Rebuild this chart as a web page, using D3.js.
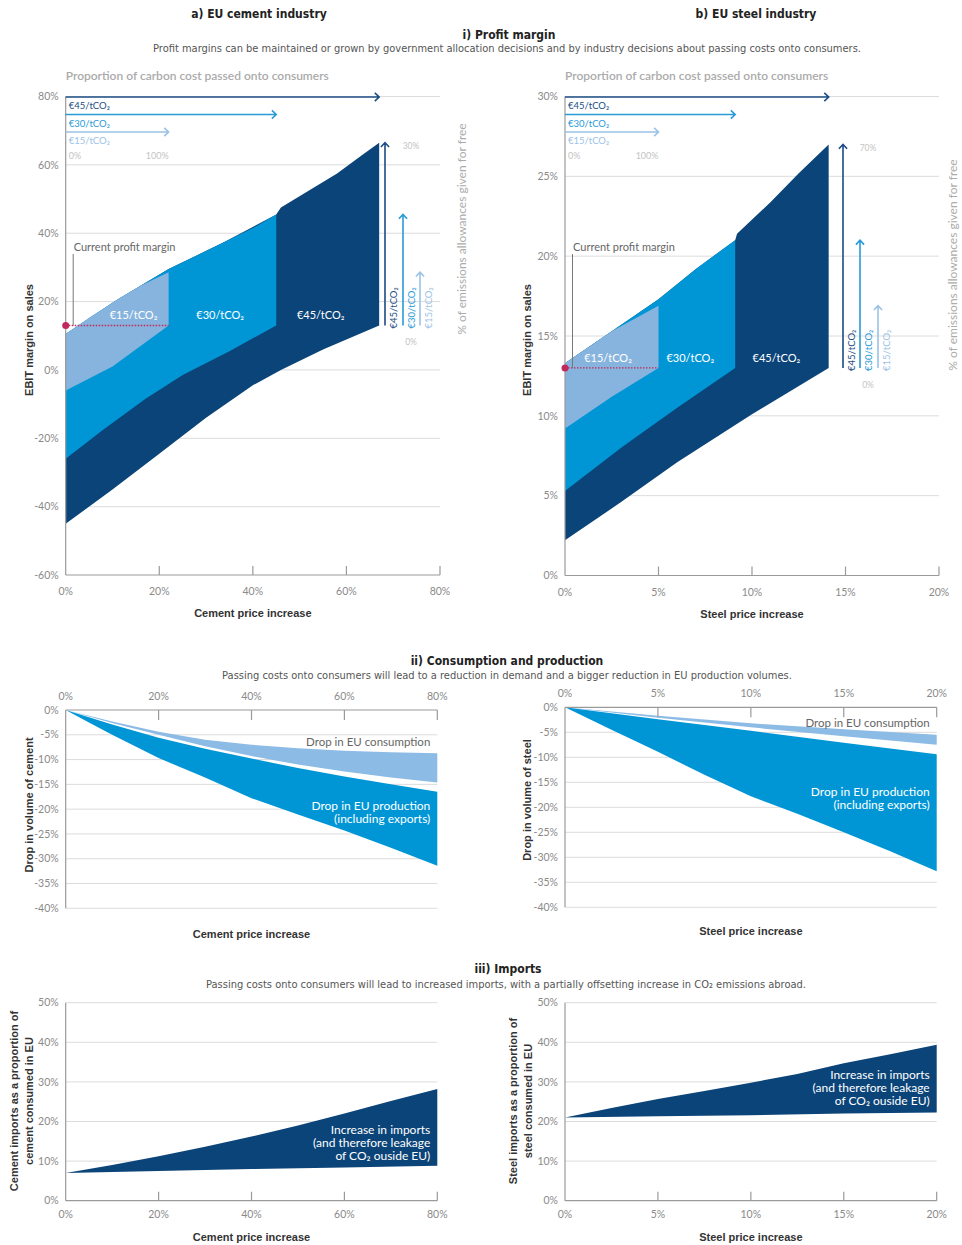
<!DOCTYPE html>
<html>
<head>
<meta charset="utf-8">
<script src="https://cdn.jsdelivr.net/npm/d3@7"></script>
<style>
	body { margin: 0; background: #fff; }
	svg text { font-family: Lato, "Open Sans", sans-serif; }
	.cond { font-family: "Liberation Sans Narrow", "DejaVu Sans Condensed", "DejaVu Sans", sans-serif; font-stretch: condensed; }
	.bold { font-family: "Liberation Sans", Arial, sans-serif; font-weight: bold; }
</style>
</head>
<body>
<svg id="chart" width="962" height="1245"></svg>
<script>
// ---------- data ----------
const cementPriceTicks = [0, 20, 40, 60, 80];
const steelPriceTicks = [0, 5, 10, 15, 20];
const cementMarginTicks = [-60, -40, -20, 0, 20, 40, 60, 80];
const steelMarginTicks = [0, 5, 10, 15, 20, 25, 30];
const volumeTicks = [0, -5, -10, -15, -20, -25, -30, -35, -40];
const importTicks = [0, 10, 20, 30, 40, 50];

const carbonPrices = ["€15/tCO₂", "€30/tCO₂", "€45/tCO₂"];
const cementMargin = 13;
const steelMargin = 13;
const cementFreeRange = ["0%", "30%"];
const steelFreeRange = ["0%", "70%"];

// EBIT margin bands, [price increase %, margin %], for €15, €30, €45
const cementTops = [
	[[0, 10.5], [5, 15.2], [11, 20.5], [16, 24.6], [22, 28.6]],
	[[0, 10.5], [5, 15.2], [11, 20.5], [16, 24.6], [22, 29.5], [28, 33.5], [34, 37.5], [40, 41.5], [45, 45.5]],
	[[0, 10.5], [11, 20.5], [22, 29.5], [34, 37.5], [45, 45.5], [46, 47.5], [52, 52.5], [58, 57.5], [63, 62.5], [67, 66.5]],
];
const cementBottoms = [
	[[0, -6], [10, 1], [22, 13]],
	[[0, -26], [8, -17.5], [17, -8.5], [25, -1.5], [35, 5.5], [45, 13]],
	[[0, -45], [10, -35], [20, -24.5], [30, -14], [40, -4.5], [46, 0], [55, 6], [67, 13]],
];
const steelTops = [
	[[0, 13.3], [2.5, 15.3], [5, 16.9]],
	[[0, 13.3], [2.5, 15.3], [5, 17.3], [7, 19.2], [9.1, 21]],
	[[0, 13.3], [2.5, 15.3], [5, 17.3], [7, 19.2], [9.1, 21], [9.2, 21.4], [11, 23.4], [12.5, 25.2], [14.1, 27]],
];
const steelBottoms = [
	[[0, 9.2], [2.5, 11.2], [5, 13]],
	[[0, 5.3], [3, 8], [6, 10.5], [9.1, 13]],
	[[0, 2.2], [3, 4.6], [6, 7.1], [10, 10.1], [14.1, 13]],
];

// drop in volume, [price increase %, change %]
const cementConsTop = [[0, 0], [10, -2.3], [20, -4.4], [30, -6], [40, -7], [50, -7.7], [60, -8.2], [70, -8.5], [80, -8.7]];
const cementConsBottom = [[0, 0], [10, -2.6], [20, -5], [30, -7.3], [40, -9.3], [50, -11], [60, -12.4], [70, -13.6], [80, -14.6]];
const cementProdTop = [[0, 0], [10, -2.9], [20, -5.6], [30, -7.8], [40, -9.8], [50, -11.7], [60, -13.4], [70, -15], [80, -16.5]];
const cementProdBottom = [[0, 0], [5, -2.5], [10, -5], [20, -9.7], [30, -13.6], [40, -17.8], [50, -21.1], [60, -24.3], [70, -27.8], [80, -31.4]];
const steelConsTop = [[0, 0], [5, -1.7], [10, -3.2], [15, -4.4], [20, -5.5]];
const steelConsBottom = [[0, 0], [5, -2.1], [10, -4], [15, -5.8], [20, -7.5]];
const steelProdTop = [[0, 0], [5, -2.4], [10, -4.7], [15, -7.1], [20, -9.4]];
const steelProdBottom = [[0, 0], [2.5, -4.5], [5, -8.9], [7.5, -13.5], [10, -17.8], [12.5, -21.3], [15, -25], [17.5, -28.8], [20, -32.8]];

// imports as share of consumption, [price increase %, share %]
const cementImportTop = [[0, 7], [10, 9], [20, 11.2], [30, 13.6], [40, 16.2], [50, 19], [60, 22], [70, 25.2], [80, 28.2]];
const cementImportBase = [[0, 7], [20, 7.5], [40, 8], [60, 8.4], [80, 8.8]];
const steelImportTop = [[0, 21], [2.5, 23.4], [5, 25.7], [7.5, 27.7], [10, 29.8], [12.5, 32], [15, 34.7], [17.5, 37], [20, 39.4]];
const steelImportBase = [[0, 21], [5, 21.3], [10, 21.6], [15, 22], [20, 22.3]];

// ---------- style ----------
const bandColors = ["#87b4de", "#0096d6", "#0b4478"];
const arrowColors = ["#9cc2e6", "#2a9bd8", "#1c4d84"];
const gridColor = "#dcdcdc";
const axisColor = "#9a9a9a";
const tickText = "#8a8a8a";

const svg = d3.select("#chart");

function txt(g, x, y, s, o = {}) {
	const t = g.append("text")
		.attr("x", x)
		.attr("y", y)
		.attr("font-size", o.size || 10)
		.attr("fill", o.fill || tickText)
		.attr("text-anchor", o.anchor || "start")
		.text(s);
	if (o.cls) t.attr("class", o.cls);
	if (o.weight) t.attr("font-weight", o.weight);
	if (o.rotate) t.attr("transform", `rotate(-90, ${x}, ${y})`);
	return t;
}

function arrow(g, x1, y1, x2, y2, color) {
	const a = Math.atan2(y2 - y1, x2 - x1);
	const s = 6;
	const p = d3.path();
	p.moveTo(x1, y1);
	p.lineTo(x2, y2);
	p.moveTo(x2 - s * Math.cos(a - 0.75), y2 - s * Math.sin(a - 0.75));
	p.lineTo(x2, y2);
	p.lineTo(x2 - s * Math.cos(a + 0.75), y2 - s * Math.sin(a + 0.75));
	g.append("path")
		.attr("d", p.toString())
		.attr("fill", "none")
		.attr("stroke", color)
		.attr("stroke-width", 1.6);
}

function polygon(x, y, top, bottom) {
	const line = d3.line().x((d) => x(d[0])).y((d) => y(d[1]));
	return line(top.concat(bottom.slice().reverse())) + "Z";
}

function grid(g, x, y, ticks, xMax) {
	g.selectAll("line.grid")
		.data(ticks)
		.join("line")
		.classed("grid", true)
		.attr("x1", x(0))
		.attr("x2", x(xMax))
		.attr("y1", (d) => y(d))
		.attr("y2", (d) => y(d))
		.attr("stroke", gridColor)
		.attr("stroke-width", 1);
}

function yLabels(g, x, y, ticks) {
	g.selectAll("text.ylab")
		.data(ticks)
		.join("text")
		.classed("ylab", true)
		.attr("x", x(0) - 7)
		.attr("y", (d) => y(d))
		.attr("dy", "0.35em")
		.attr("text-anchor", "end")
		.attr("font-size", 10.5)
		.attr("fill", tickText)
		.text((d) => d + "%");
}

function bottomAxis(g, x, yPos, ticks, labelY, title, titleY) {
	g.append("line")
		.attr("x1", x(0)).attr("x2", x(ticks[ticks.length - 1]))
		.attr("y1", yPos).attr("y2", yPos)
		.attr("stroke", axisColor).attr("stroke-width", 1.2);
	g.selectAll("line.xtick")
		.data(ticks.slice(1))
		.join("line")
		.classed("xtick", true)
		.attr("x1", (d) => x(d)).attr("x2", (d) => x(d))
		.attr("y1", yPos).attr("y2", yPos - 9)
		.attr("stroke", axisColor).attr("stroke-width", 1.2);
	g.selectAll("text.xlab")
		.data(ticks)
		.join("text")
		.classed("xlab", true)
		.attr("x", (d) => x(d))
		.attr("y", labelY)
		.attr("text-anchor", "middle")
		.attr("font-size", 10.5)
		.attr("fill", tickText)
		.text((d) => d + "%");
	txt(g, (x.range()[0] + x.range()[1]) / 2, titleY, title, { cls: "bold", fill: "#333", anchor: "middle", size: 11 });
}

function leftAxis(g, x, y0, y1) {
	g.append("line")
		.attr("x1", x(0)).attr("x2", x(0))
		.attr("y1", y0).attr("y2", y1)
		.attr("stroke", axisColor).attr("stroke-width", 1.2);
}

// ---------- i) profit margin ----------
function drawProfit(o) {
	const x = d3.scaleLinear().domain(o.xDomain).range(o.xRange);
	const y = d3.scaleLinear().domain(o.yDomain).range(o.yRange);
	const g = svg.append("g");
	const xMax = o.xDomain[1];
	const ends = o.tops.map((t) => t[t.length - 1]);

	grid(g, x, y, o.yTicks.slice(1), xMax);

	// bands, widest first so the narrower ones sit on top
	[2, 1, 0].forEach((k) => {
		g.append("path")
			.attr("d", polygon(x, y, o.tops[k], o.bottoms[k]))
			.attr("fill", bandColors[k]);
	});

	leftAxis(g, x, y(o.yDomain[1]), y(o.yDomain[0]));
	yLabels(g, x, y, o.yTicks);
	bottomAxis(g, x, y(o.yDomain[0]), o.xTicks, o.yRange[0] + 20, o.xTitle, o.yRange[0] + 42);

	// band labels
	carbonPrices.forEach((c, k) => {
		txt(g, x(o.labelAt[k]), y(o.margin) - 6, c, { fill: "#fff", anchor: "middle", size: 11 });
	});

	// current margin marker
	g.append("line")
		.attr("x1", x(0)).attr("x2", x(ends[0][0]))
		.attr("y1", y(o.margin)).attr("y2", y(o.margin))
		.attr("stroke", "#c2285a").attr("stroke-width", 1.3)
		.attr("stroke-dasharray", "1.5,1.5");
	g.append("circle")
		.attr("cx", x(0)).attr("cy", y(o.margin)).attr("r", 3.5)
		.attr("fill", "#c2285a");
	g.append("line")
		.attr("x1", x(0) + 7.5).attr("x2", x(0) + 7.5)
		.attr("y1", 254).attr("y2", y(o.margin))
		.attr("stroke", "#777").attr("stroke-width", 1);
	txt(g, x(0) + 8, 251, "Current profit margin", { fill: "#666", size: 11 });

	// pass-through legend
	txt(g, x(0), 80, "Proportion of carbon cost passed onto consumers", { fill: "#ababab", size: 12, weight: 600 });
	carbonPrices.forEach((c, k) => {
		const ay = 97 + (2 - k) * 17.5;
		arrow(g, x(0), ay, x(ends[k][0]), ay, arrowColors[k]);
		txt(g, x(0) + 3, ay + 12, c, { fill: arrowColors[k], size: 9.5 });
	});
	txt(g, x(0) + 3, 159, "0%", { fill: "#c4c4c4", size: 9 });
	txt(g, x(ends[0][0]), 159, "100%", { fill: "#c4c4c4", size: 9, anchor: "end" });

	// free allowance arrows
	carbonPrices.forEach((c, k) => {
		const ax = o.arrowX[k];
		arrow(g, ax, y(o.margin), ax, y(ends[k][1]), arrowColors[k]);
		txt(g, ax + 12, y(o.margin) + 3, c, { fill: arrowColors[k], size: 9.5, rotate: true });
	});
	txt(g, o.arrowX[1] + 8, y(ends[2][1]) + 6.5, o.freeRange[1], { fill: "#c4c4c4", size: 8.5, anchor: "middle" });
	txt(g, o.arrowX[1] + 8, y(o.margin) + 20, o.freeRange[0], { fill: "#c4c4c4", size: 8.5, anchor: "middle" });
	txt(g, o.freeTitle[0], o.freeTitle[1], "% of emissions allowances given for free", { fill: "#ababab", size: 12, rotate: true, anchor: "middle" });

	txt(g, o.yTitleX, 340, "EBIT margin on sales", { cls: "bold", fill: "#333", rotate: true, anchor: "middle", size: 11 });
}

// ---------- ii) consumption and production ----------
function drawVolume(o) {
	const x = d3.scaleLinear().domain(o.xDomain).range(o.xRange);
	const y = d3.scaleLinear().domain([0, -40]).range(o.yRange);
	const g = svg.append("g");
	const xMax = o.xDomain[1];

	grid(g, x, y, volumeTicks.slice(1), xMax);
	g.append("path").attr("d", polygon(x, y, o.consTop, o.consBottom)).attr("fill", "#8cbbe5");
	g.append("path").attr("d", polygon(x, y, o.prodTop, o.prodBottom)).attr("fill", "#0096d6");

	leftAxis(g, x, y(0), y(-40));
	yLabels(g, x, y, volumeTicks);

	// top axis
	g.append("line")
		.attr("x1", x(0)).attr("x2", x(xMax))
		.attr("y1", y(0)).attr("y2", y(0))
		.attr("stroke", axisColor).attr("stroke-width", 1.2);
	g.selectAll("line.xtick")
		.data(o.xTicks.slice(1))
		.join("line")
		.classed("xtick", true)
		.attr("x1", (d) => x(d)).attr("x2", (d) => x(d))
		.attr("y1", y(0)).attr("y2", y(0) + 10)
		.attr("stroke", axisColor).attr("stroke-width", 1.2);
	g.selectAll("text.xlab")
		.data(o.xTicks)
		.join("text")
		.classed("xlab", true)
		.attr("x", (d) => x(d))
		.attr("y", y(0) - 10)
		.attr("text-anchor", "middle")
		.attr("font-size", 10.5)
		.attr("fill", tickText)
		.text((d) => d + "%");

	txt(g, (o.xRange[0] + o.xRange[1]) / 2, o.xTitleY, o.xTitle, { cls: "bold", fill: "#333", anchor: "middle", size: 11 });
	txt(g, o.yTitleX, o.yTitleY, o.yTitle, { cls: "bold", fill: "#333", rotate: true, anchor: "middle", size: 11 });

	const rx = x(xMax) - 7;
	txt(g, rx, o.labelY[0], "Drop in EU consumption", { fill: "#666", size: 11.5, anchor: "end" });
	txt(g, rx, o.labelY[1], "Drop in EU production", { fill: "#fff", size: 12, anchor: "end" });
	txt(g, rx, o.labelY[1] + 13, "(including exports)", { fill: "#fff", size: 12, anchor: "end" });
}

// ---------- iii) imports ----------
function drawImports(o) {
	const x = d3.scaleLinear().domain(o.xDomain).range(o.xRange);
	const y = d3.scaleLinear().domain([0, 50]).range(o.yRange);
	const g = svg.append("g");
	const xMax = o.xDomain[1];

	grid(g, x, y, importTicks.slice(1), xMax);
	g.append("path").attr("d", polygon(x, y, o.top, o.base)).attr("fill", "#0b4478");

	leftAxis(g, x, y(0), y(50));
	yLabels(g, x, y, importTicks);
	bottomAxis(g, x, y(0), o.xTicks, y(0) + 17, o.xTitle, y(0) + 40);

	o.yTitle.forEach((t, i) => {
		txt(g, o.yTitleX + i * 14.5, 1101, t, { cls: "bold", fill: "#333", rotate: true, anchor: "middle", size: 11 });
	});

	const rx = x(xMax) - 7;
	["Increase in imports", "(and therefore leakage", "of CO₂ ouside EU)"].forEach((t, i) => {
		txt(g, rx, o.labelY + i * 13, t, { fill: "#fff", size: 12, anchor: "end" });
	});
}

// ---------- headers ----------
const head = svg.append("g");
txt(head, 259, 18, "a) EU cement industry", { cls: "cond", fill: "#222", size: 12, weight: "bold", anchor: "middle" });
txt(head, 756, 18, "b) EU steel industry", { cls: "cond", fill: "#222", size: 12, weight: "bold", anchor: "middle" });
txt(head, 509, 39, "i) Profit margin", { cls: "cond", fill: "#222", size: 12, weight: "bold", anchor: "middle" });
txt(head, 507, 52, "Profit margins can be maintained or grown by government allocation decisions and by industry decisions about passing costs onto consumers.", { cls: "cond", fill: "#555", size: 11, anchor: "middle" });
txt(head, 507, 665, "ii) Consumption and production", { cls: "cond", fill: "#222", size: 12, weight: "bold", anchor: "middle" });
txt(head, 507, 679, "Passing costs onto consumers will lead to a reduction in demand and a bigger reduction in EU production volumes.", { cls: "cond", fill: "#555", size: 11, anchor: "middle" });
txt(head, 508, 973, "iii) Imports", { cls: "cond", fill: "#222", size: 12, weight: "bold", anchor: "middle" });
txt(head, 506, 988, "Passing costs onto consumers will lead to increased imports, with a partially offsetting increase in CO₂ emissions abroad.", { cls: "cond", fill: "#555", size: 11, anchor: "middle" });

drawProfit({
	xDomain: [0, 80], xRange: [65.7, 440], yDomain: [-60, 80], yRange: [575, 96.5],
	xTicks: cementPriceTicks, yTicks: cementMarginTicks,
	tops: cementTops, bottoms: cementBottoms, margin: cementMargin,
	labelAt: [14.5, 33, 54.5], arrowX: [420, 403, 385],
	freeRange: cementFreeRange, freeTitle: [466, 229], yTitleX: 33,
	xTitle: "Cement price increase",
});
drawProfit({
	xDomain: [0, 20], xRange: [565, 939], yDomain: [0, 30], yRange: [575.5, 96.5],
	xTicks: steelPriceTicks, yTicks: steelMarginTicks,
	tops: steelTops, bottoms: steelBottoms, margin: steelMargin,
	labelAt: [2.3, 6.7, 11.3], arrowX: [878, 860, 843],
	freeRange: steelFreeRange, freeTitle: [957, 265], yTitleX: 531,
	xTitle: "Steel price increase",
});

drawVolume({
	xDomain: [0, 80], xRange: [65.7, 437.3], yRange: [710, 908.3], xTicks: cementPriceTicks,
	consTop: cementConsTop, consBottom: cementConsBottom, prodTop: cementProdTop, prodBottom: cementProdBottom,
	xTitle: "Cement price increase", xTitleY: 938,
	yTitle: "Drop in volume of cement", yTitleX: 33, yTitleY: 805, labelY: [746, 810],
});
drawVolume({
	xDomain: [0, 20], xRange: [565, 936.7], yRange: [707.3, 907.3], xTicks: steelPriceTicks,
	consTop: steelConsTop, consBottom: steelConsBottom, prodTop: steelProdTop, prodBottom: steelProdBottom,
	xTitle: "Steel price increase", xTitleY: 935,
	yTitle: "Drop in volume of steel", yTitleX: 531, yTitleY: 800, labelY: [727, 796],
});

drawImports({
	xDomain: [0, 80], xRange: [65.7, 437.3], yRange: [1200.7, 1002.7], xTicks: cementPriceTicks,
	top: cementImportTop, base: cementImportBase,
	xTitle: "Cement price increase",
	yTitle: ["Cement imports as a proportion of", "cement consumed in EU"], yTitleX: 18, labelY: 1134,
});
drawImports({
	xDomain: [0, 20], xRange: [565, 936.7], yRange: [1200.7, 1002.7], xTicks: steelPriceTicks,
	top: steelImportTop, base: steelImportBase,
	xTitle: "Steel price increase",
	yTitle: ["Steel imports as a proportion of", "steel consumed in EU"], yTitleX: 517, labelY: 1079,
});
</script>
</body>
</html>
